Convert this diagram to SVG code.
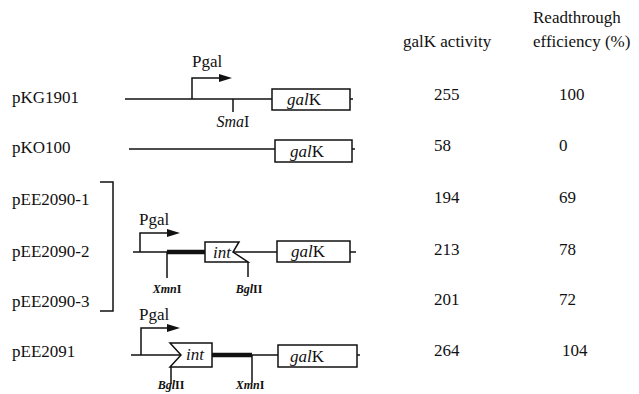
<svg xmlns="http://www.w3.org/2000/svg" width="639" height="394" viewBox="0 0 639 394">
<style>
text{font-family:"Liberation Serif","Times New Roman",serif;fill:#111}
.lb{font-size:17px}
.it{font-style:italic}
.sm{font-size:12px;font-weight:bold}
.ln{stroke:#111;stroke-width:1.5;fill:none}
.thk{stroke:#111;stroke-width:4.5;fill:none}
.box{stroke:#111;stroke-width:1.5;fill:#fff}
.pr{stroke:#111;stroke-width:1.5;fill:none;marker-end:url(#ah)}
</style>
<defs>
<marker id="ah" markerUnits="userSpaceOnUse" markerWidth="13" markerHeight="9" refX="1" refY="4" orient="auto">
<path d="M0,0 L13,4 L0,8 Z" fill="#111"/>
</marker>
</defs>
<rect width="639" height="394" fill="#fff"/>
<g id="headers" class="lb">
<text x="403" y="47">galK activity</text>
<text x="533" y="23">Readthrough</text>
<text x="533" y="47">efficiency (%)</text>
</g>
<g id="pKG1901">
<text class="lb" x="12" y="103">pKG1901</text>
<path class="ln" d="M125,99 H353"/>
<path class="pr" d="M192,99 V78 H220"/>
<text class="lb" x="192" y="67">Pgal</text>
<path class="ln" d="M233,99 V112"/>
<text x="233" y="127" font-size="16" text-anchor="middle"><tspan class="it">Sma</tspan>I</text>
<rect class="box" x="272" y="89" width="78" height="21"/>
<text class="lb" x="287" y="105"><tspan class="it">gal</tspan>K</text>
<text class="lb" x="434" y="100">255</text>
<text class="lb" x="559" y="100">100</text>
</g>
<g id="pKO100">
<text class="lb" x="12" y="153">pKO100</text>
<path class="ln" d="M129,149 H355"/>
<rect class="box" x="275" y="140" width="77" height="22"/>
<text class="lb" x="290" y="157"><tspan class="it">gal</tspan>K</text>
<text class="lb" x="434" y="151">58</text>
<text class="lb" x="559" y="151">0</text>
</g>
<g id="pEE2090-1">
<text class="lb" x="12" y="205">pEE2090-1</text>
<text class="lb" x="434" y="203">194</text>
<text class="lb" x="559" y="203">69</text>
</g>
<g id="pEE2090-2">
<text class="lb" x="12" y="257">pEE2090-2</text>
<path class="ln" d="M133,252 H167"/>
<path class="thk" d="M167,252 H205"/>
<path class="pr" d="M140,252 V233 H168"/>
<text class="lb" x="139" y="225">Pgal</text>
<polygon class="box" points="205,242 239,242 233,252 248,262 205,262"/>
<text class="lb it" x="213" y="258">int</text>
<path class="ln" d="M233,252 H356"/>
<rect class="box" x="277" y="241" width="73" height="21"/>
<text class="lb" x="291" y="257"><tspan class="it">gal</tspan>K</text>
<path class="ln" d="M167,252 V278"/>
<path class="ln" d="M248,262 V277"/>
<text class="sm" x="167" y="293" text-anchor="middle"><tspan class="it">Xmn</tspan>I</text>
<text class="sm" x="249" y="293" text-anchor="middle"><tspan class="it">Bgl</tspan>II</text>
<text class="lb" x="434" y="255">213</text>
<text class="lb" x="559" y="255">78</text>
</g>
<g id="pEE2090-3">
<text class="lb" x="12" y="307">pEE2090-3</text>
<text class="lb" x="434" y="305">201</text>
<text class="lb" x="559" y="305">72</text>
</g>
<g id="pEE2091">
<text class="lb" x="12" y="357">pEE2091</text>
<path class="ln" d="M131,355 H181"/>
<path class="pr" d="M141,355 V328 H168"/>
<text class="lb" x="139" y="320">Pgal</text>
<polygon class="box" points="170,343 212,343 212,367 170,367 181,355"/>
<text class="lb it" x="186" y="360">int</text>
<path class="thk" d="M212,355 H252"/>
<path class="ln" d="M252,355 H360"/>
<rect class="box" x="278" y="345" width="79" height="22"/>
<text class="lb" x="290" y="362"><tspan class="it">gal</tspan>K</text>
<path class="ln" d="M171,367 V384"/>
<path class="ln" d="M252,355 V383"/>
<text class="sm" x="171" y="389" font-size="11" text-anchor="middle"><tspan class="it">Bgl</tspan>II</text>
<text class="sm" x="250" y="389" font-size="11" text-anchor="middle"><tspan class="it">Xmn</tspan>I</text>
<text class="lb" x="434" y="356">264</text>
<text class="lb" x="562" y="356">104</text>
</g>
<g id="connectors">
<path class="ln" d="M100,182 H113 V311 H100"/>
</g>
</svg>
